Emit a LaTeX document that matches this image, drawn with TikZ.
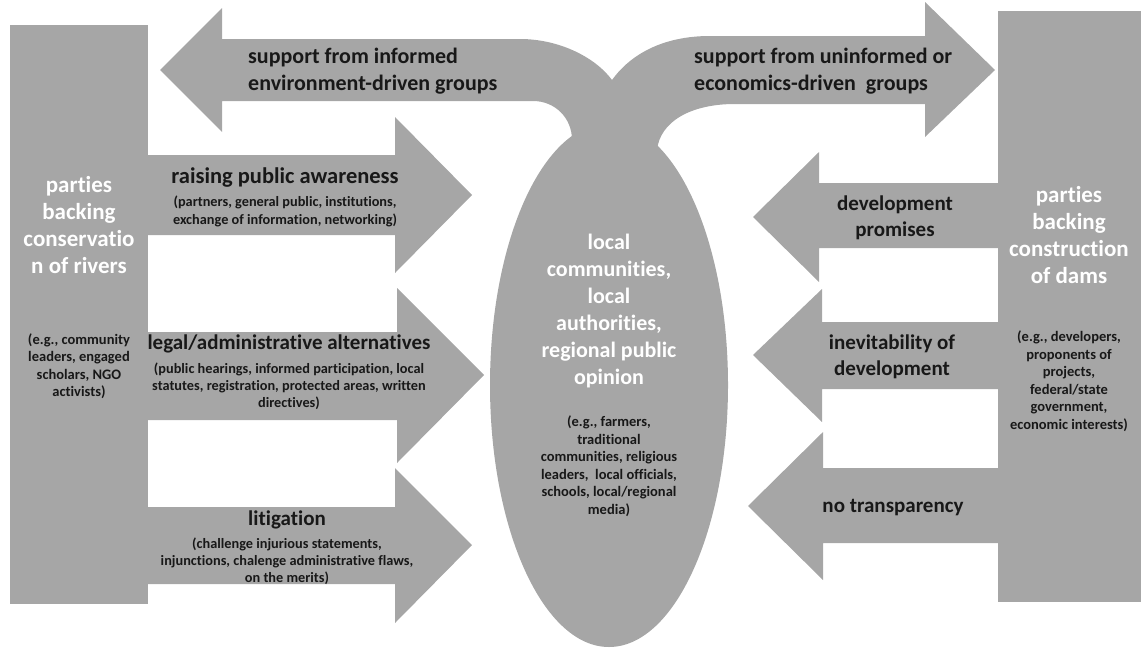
\documentclass[tikz,border=0pt]{standalone}
\usepackage{fontspec}
\setmainfont{Carlito}[Ligatures={NoCommon}]
\usepackage{tikz}
\usetikzlibrary{shapes.geometric}
\usetikzlibrary{positioning}
\definecolor{blockgray}{RGB}{166,166,166}
\definecolor{inkblack}{RGB}{24,24,24}

\begin{document}
\begin{tikzpicture}[x=1pt, y=-1pt, every node/.style={inner sep=0pt}]
		\tikzstyle{grayblock}=[fill=blockgray, draw=none]
		\tikzset{partytitle/.style={text=white, align=center, font=\fontsize{23}{27}\selectfont\bfseries}}
		\tikzset{partynote/.style={text=inkblack, align=center, font=\fontsize{14.5}{17.5}\selectfont\bfseries}}
		\tikzset{arrowtitle/.style={text=inkblack, align=center, font=\fontsize{21}{25.5}\selectfont\bfseries}}
		\tikzset{arrownote/.style={text=inkblack, align=center, font=\fontsize{14.3}{17.3}\selectfont\bfseries}}
		\useasboundingbox (0,0) rectangle (1142,648);

		% the two parties
		\fill[grayblock] (10,25) rectangle (148,604);
		\fill[grayblock] (998,11) rectangle (1141,602);

		% Y-shaped support arrows on top
		\fill[grayblock] (160,70) -- (222,8) -- (222,39) -- (520,39) .. controls (560,39) and (596,58) .. (612,80)
			.. controls (630,55) and (662,36) .. (710,36) -- (925,36) -- (925,2) -- (995,70) -- (925,137) -- (925,104)
			-- (735,104) .. controls (690,104) and (660,122) .. (657,150) -- (657,175) -- (572,175) -- (572,140)
			.. controls (572,118) and (555,101) .. (533,101) -- (222,101) -- (222,132) -- cycle;

		% public opinion in the middle
		\node[ellipse, grayblock, minimum width=238, minimum height=524] (opinion) at (609,385) {};

		% arrows from the river side
		\fill[grayblock] (147,155) -- (395,155) -- (395,117) -- (472,195) -- (395,273) -- (395,235) -- (147,235) -- cycle;
		\fill[grayblock] (147,332) -- (397,332) -- (397,288) -- (484,375) -- (397,463) -- (397,420) -- (147,420) -- cycle;
		\fill[grayblock] (147,507) -- (395,507) -- (395,468) -- (472,545) -- (395,623) -- (395,584) -- (147,584) -- cycle;

		% arrows from the dam side
		\fill[grayblock] (999,183) -- (819,183) -- (819,152) -- (753,217) -- (819,282) -- (819,248) -- (999,248) -- cycle;
		\fill[grayblock] (999,322) -- (822,322) -- (822,289) -- (753,355) -- (822,422) -- (822,389) -- (999,389) -- cycle;
		\fill[grayblock] (999,468) -- (823,468) -- (823,432) -- (748,506) -- (823,580) -- (823,543) -- (999,543) -- cycle;

		% labels
		\node[partytitle] (rivers) at (79,225) {parties\\backing\\conservatio\\n of rivers};
		\node[partynote] (riversnote) at (79,366) {(e.g., community\\leaders, engaged\\scholars, NGO\\activists)};
		\node[partytitle] (dams) at (1069,235) {parties\\backing\\construction\\of dams};
		\node[partynote] (damsnote) at (1069,381) {(e.g., developers,\\proponents of\\projects,\\federal/state\\government,\\economic interests)};

		\node[text=white, align=center, font=\fontsize{22}{27}\selectfont\bfseries] (opiniontitle) at (609,311) {local\\communities,\\local\\authorities,\\regional public\\opinion};
		\node[partynote] (opinionnote) at (609,466) {(e.g., farmers,\\traditional\\communities, religious\\leaders,~ local officials,\\schools, local/regional\\media)};

		\node[arrowtitle, anchor=west, align=left, font=\fontsize{22}{26.5}\selectfont\bfseries] (informed) at (248,71) {support from informed\\environment-driven groups};
		\node[arrowtitle, anchor=west, align=left, font=\fontsize{22}{26.5}\selectfont\bfseries] (uninformed) at (694,71) {support from uninformed or\\economics-driven~ groups};

		\node[arrowtitle, font=\fontsize{22.5}{27}\selectfont\bfseries] (awareness) at (285,178) {raising public awareness};
		\node[arrownote, below=8pt of awareness] (awarenessnote) {(partners, general public, institutions,\\exchange of information, networking)};
		\node[arrowtitle] (legal) at (289,344) {legal/administrative alternatives};
		\node[arrownote, below=9pt of legal] (legalnote) {(public hearings, informed participation, local\\statutes, registration, protected areas, written\\directives)};
		\node[arrowtitle] (litigation) at (287,520) {litigation};
		\node[arrownote, below=8pt of litigation] (litigationnote) {(challenge injurious statements,\\injunctions, chalenge administrative flaws,\\on the merits)};

		\node[arrowtitle] (promises) at (895,218) {development\\promises};
		\node[arrowtitle] (inevitability) at (892,357) {inevitability of\\development};
		\node[arrowtitle] (transparency) at (893,508) {no transparency};
	\end{tikzpicture}
\end{document}
